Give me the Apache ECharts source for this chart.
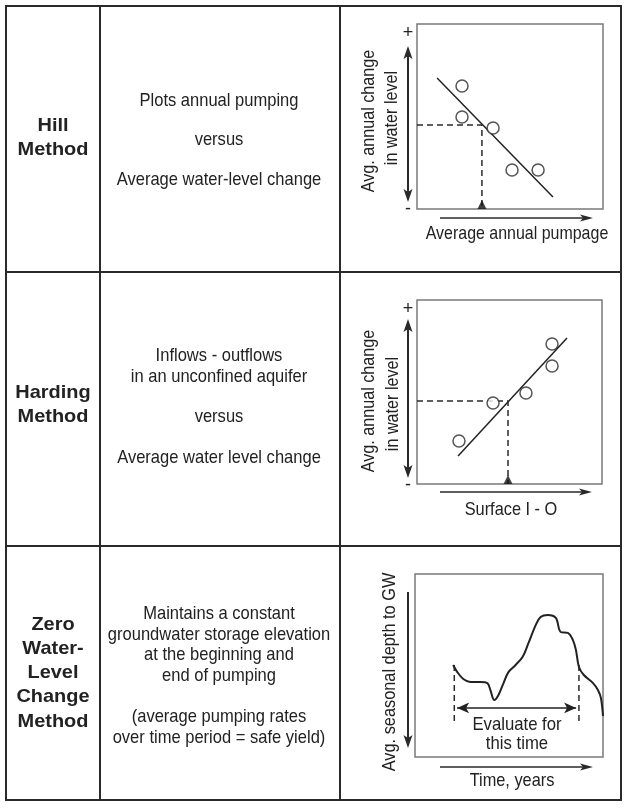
<!DOCTYPE html>
<html>
<head>
<meta charset="utf-8">
<script src="https://cdn.jsdelivr.net/npm/echarts@6/dist/echarts.min.js"></script>
<style>html,body{margin:0;padding:0;background:#fff}#c{width:628px;height:808px}</style>
</head>
<body>
<div id="c"></div>
<script>
// ---- data ----
const methodNames = [["Hill", "Method"], ["Harding", "Method"], ["Zero", "Water-", "Level", "Change", "Method"]];
const descHill = ["Plots annual pumping", "versus", "Average water-level change"];
const descHarding = ["Inflows - outflows", "in an unconfined aquifer", "versus", "Average water level change"];
const descZero = ["Maintains a constant", "groundwater storage elevation", "at the beginning and", "end of pumping", "(average pumping rates", "over time period = safe yield)"];

const hillPoints = [[2.42, 6.65], [2.42, 4.97], [4.09, 4.38], [5.11, 2.11], [6.51, 2.11]];
const hillFit = [[1.08, 7.08], [7.31, 0.65]];
const hillRead = [3.49, 4.54];

const hardPoints = [[2.27, 2.34], [4.11, 4.40], [5.89, 4.95], [7.30, 6.41], [7.30, 7.61]];
const hardFit = [[2.22, 1.52], [8.11, 7.93]];
const hardRead = [4.92, 4.51];

const zeroTime = [20.3, 22.5, 25.7, 29.4, 34.8, 38.5, 40.1, 42.2, 44.4, 47.1, 49.7, 53.5, 57.2, 60.4, 64.2, 66.8, 70.6, 74.9, 77.5, 81.3, 84.0, 85.6, 87.2, 89.8, 94.7, 97.3, 98.9, 100];
const zeroDepth = [49.7, 53.6, 57.4, 59.0, 59.0, 59.6, 63.4, 68.9, 66.1, 59.6, 53.6, 49.7, 45.4, 37.7, 27.9, 23.5, 22.4, 24.0, 31.7, 32.2, 36.1, 41.5, 50.8, 55.2, 59.6, 63.4, 67.8, 77.6];
const zeroWindow = [20.9, 87.2];
const zeroDashDepth = [49.7, 82.5];
const zeroArrowDepth = 73.2;

// ---- helpers ----
const FONT = "'Liberation Sans', Arial, Helvetica, sans-serif";
const INK = '#222';
function txt(x, y, s, o) {
  o = o || {};
  return {
    type: 'text', x: x, y: y, rotation: o.rot || 0, scaleX: o.sx || 1, z: 10,
    style: {
      text: s, x: 0, y: 0, textAlign: 'center', textVerticalAlign: 'middle',
      align: 'center', verticalAlign: 'middle',
      fontSize: o.size || 19, fontWeight: o.bold ? 'bold' : 'normal',
      fontFamily: FONT, fill: o.color || INK
    }
  };
}
function seg(x1, y1, x2, y2, w, c) {
  return { type: 'line', z: 5, shape: { x1: x1, y1: y1, x2: x2, y2: y2 }, style: { stroke: c || '#2a2a2a', lineWidth: w || 2 } };
}
function poly(pts, c) {
  return { type: 'polygon', z: 6, shape: { points: pts }, style: { fill: c || '#2a2a2a' } };
}
function arrowUp(x, y) { return poly([[x, y], [x - 4.5, y + 13], [x, y + 10], [x + 4.5, y + 13]]); }
function arrowDown(x, y) { return poly([[x, y], [x - 4.5, y - 13], [x, y - 10], [x + 4.5, y - 13]]); }
function arrowRight(x, y) { return poly([[x, y], [x - 13, y - 3.5], [x - 10, y], [x - 13, y + 3.5]]); }

const graphics = [];
// table
graphics.push({ type: 'rect', z: 5, shape: { x: 6, y: 6, width: 615, height: 794 }, style: { fill: 'none', stroke: '#2a2a2a', lineWidth: 2 } });
graphics.push(seg(100, 6, 100, 800));
graphics.push(seg(340, 6, 340, 800));
graphics.push(seg(6, 272, 621, 272));
graphics.push(seg(6, 546, 621, 546));

// method names
const nameY = [[126, 150], [393, 417], [625, 649, 673, 697, 722]];
methodNames.forEach((arr, i) => arr.forEach((s, j) => graphics.push(txt(53, nameY[i][j], s, { bold: true, size: 19, sx: 1.05 }))));

// descriptions
const hillY = [101, 140, 180];
descHill.forEach((s, j) => graphics.push(txt(219, hillY[j], s, { sx: 0.87 })));
const hardY = [356, 377, 417, 458];
descHarding.forEach((s, j) => graphics.push(txt(219, hardY[j], s, { sx: 0.87 })));
const zeroY = [614, 635, 655, 676, 717, 738];
descZero.forEach((s, j) => graphics.push(txt(219, zeroY[j], s, { sx: 0.87 })));

// panel 1 decorations
graphics.push(txt(408, 33, '+', { size: 18 }));
graphics.push(txt(408, 209, '-', { size: 18 }));
graphics.push(seg(408, 52, 408, 196, 2));
graphics.push(arrowUp(408, 46));
graphics.push(arrowDown(408, 202));
graphics.push(seg(440, 218, 584, 218, 1.5));
graphics.push(arrowRight(593, 218));
graphics.push(txt(369, 121, 'Avg. annual change', { rot: Math.PI / 2, sx: 0.85 }));
graphics.push(txt(392, 118, 'in water level', { rot: Math.PI / 2, sx: 0.85 }));
graphics.push(txt(517, 234, 'Average annual pumpage', { sx: 0.84 }));

// panel 2 decorations
graphics.push(txt(408, 309, '+', { size: 18 }));
graphics.push(txt(408, 485, '-', { size: 18 }));
graphics.push(seg(408, 325, 408, 472, 2));
graphics.push(arrowUp(408, 319));
graphics.push(arrowDown(408, 478));
graphics.push(seg(440, 492, 583, 492, 1.5));
graphics.push(arrowRight(592, 492));
graphics.push(txt(369, 401, 'Avg. annual change', { rot: Math.PI / 2, sx: 0.85 }));
graphics.push(txt(393, 404, 'in water level', { rot: Math.PI / 2, sx: 0.85 }));
graphics.push(txt(511, 510, 'Surface I - O', { sx: 0.86 }));

// panel 3 decorations
graphics.push(seg(408, 592, 408, 740, 2));
graphics.push(arrowDown(408, 748));
graphics.push(seg(440, 767, 584, 767, 1.5));
graphics.push(arrowRight(593, 767));
graphics.push(txt(390, 672, 'Avg. seasonal depth to GW', { rot: Math.PI / 2, sx: 0.86 }));
graphics.push(txt(512, 781, 'Time, years', { sx: 0.86 }));
graphics.push(txt(517, 725, 'Evaluate for', { sx: 0.88 }));
graphics.push(txt(517, 744, 'this time', { sx: 0.88 }));

// ---- chart ----
const grids = [
  { left: 417, top: 24, width: 186, height: 185 },
  { left: 417, top: 300, width: 185, height: 184 },
  { left: 415, top: 574, width: 188, height: 183 }
].map(g => Object.assign({ show: true, borderColor: '#7a7a7a', borderWidth: 1.5, backgroundColor: 'transparent', containLabel: false }, g));

const hiddenAxis = (i, extra) => Object.assign({ type: 'value', gridIndex: i, min: 0, max: 10, show: false }, extra || {});

const circleStyle = { color: '#fff', borderColor: '#2a2a2a', borderWidth: 1.5 };
const dashStyle = { color: '#2a2a2a', width: 1.5, type: [6, 4] };

function scatterPanel(i, pts, fit, read) {
  return [
    { type: 'line', xAxisIndex: i, yAxisIndex: i, data: fit, symbol: 'none', lineStyle: { color: INK, width: 1.5 }, z: 2 },
    { type: 'line', xAxisIndex: i, yAxisIndex: i, data: [[0, read[1]], [read[0], read[1]], [read[0], 0]], symbol: 'none', lineStyle: dashStyle, z: 2 },
    { type: 'scatter', xAxisIndex: i, yAxisIndex: i, data: pts, symbol: 'circle', symbolSize: 12, itemStyle: circleStyle, z: 3 },
    { type: 'scatter', xAxisIndex: i, yAxisIndex: i, data: [[read[0], 0]], symbol: 'triangle', symbolSize: [9, 9], symbolOffset: [0, -4.5], itemStyle: { color: '#111' }, z: 4 }
  ];
}

const series = [].concat(
  scatterPanel(0, hillPoints, hillFit, hillRead),
  scatterPanel(1, hardPoints, hardFit, hardRead),
  [
    {
      type: 'line', xAxisIndex: 2, yAxisIndex: 2, data: zeroTime.map((t, k) => [t, zeroDepth[k]]),
      symbol: 'none', smooth: 0.35, lineStyle: { color: INK, width: 2 }, z: 3,
      markLine: {
        silent: true, symbol: ['arrow', 'arrow'], symbolSize: [8, 12], label: { show: false },
        lineStyle: { color: INK, width: 1.5, type: 'solid' },
        data: [[{ coord: [zeroWindow[0] + 1.5, zeroArrowDepth] }, { coord: [zeroWindow[1] - 1.5, zeroArrowDepth] }]]
      }
    },
    { type: 'line', xAxisIndex: 2, yAxisIndex: 2, data: [[zeroWindow[0], zeroDashDepth[0]], [zeroWindow[0], zeroDashDepth[1]]], symbol: 'none', lineStyle: dashStyle, z: 2 },
    { type: 'line', xAxisIndex: 2, yAxisIndex: 2, data: [[zeroWindow[1], zeroDashDepth[0]], [zeroWindow[1], zeroDashDepth[1]]], symbol: 'none', lineStyle: dashStyle, z: 2 }
  ]
);

const chart = echarts.init(document.getElementById('c'), null, { renderer: 'canvas' });
chart.setOption({
  animation: false,
  backgroundColor: '#fff',
  grid: grids,
  xAxis: [hiddenAxis(0), hiddenAxis(1), hiddenAxis(2, { max: 100 })],
  yAxis: [hiddenAxis(0), hiddenAxis(1), hiddenAxis(2, { max: 100, inverse: true })],
  series: series,
  graphic: graphics
});
</script>
</body>
</html>
